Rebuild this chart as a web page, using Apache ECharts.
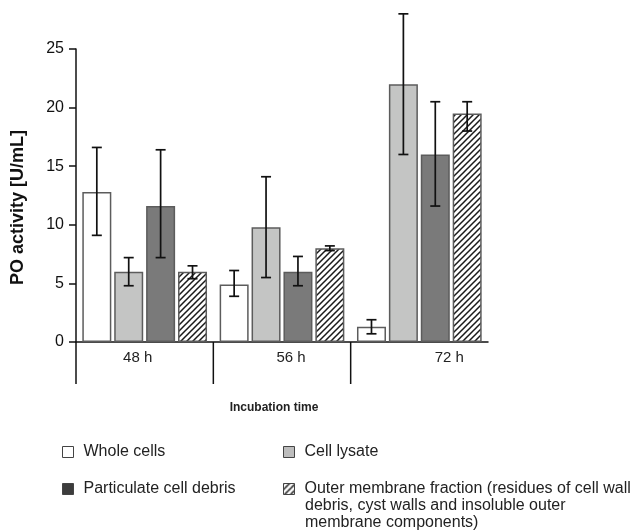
<!DOCTYPE html>
<html lang="en">
<head>
    <meta charset="UTF-8">
    <title>PO activity</title>
    <script src="https://cdn.jsdelivr.net/npm/echarts@6/dist/echarts.min.js"></script>
    <style>
        html, body { margin: 0; padding: 0; background: #fff; }
        #chart { width: 636px; height: 532px; }
    </style>
</head>
<body>
<div id="chart"></div>
<script type="text/javascript">
    // categories and series names
    var categories = ['48 h', '56 h', '72 h'];
    var seriesNames = ['Whole cells', 'Cell lysate', 'Particulate cell debris',
        'Outer membrane fraction (residues of cell wall\ndebris, cyst walls and insoluble outer\nmembrane components)'];

    // mean values per series (48 h, 56 h, 72 h)
    var wholeCells = [12.8, 4.9, 1.3];
    var cellLysate = [6.0, 9.8, 22.0];
    var cellDebris = [11.6, 6.0, 16.0];
    var outerMembrane = [6.0, 8.0, 19.5];

    // error bar ends (low, high)
    var wholeCellsErr = [[9.1, 16.6], [3.9, 6.1], [0.7, 1.9]];
    var cellLysateErr = [[4.8, 7.2], [5.5, 14.1], [16.0, 28.0]];
    var cellDebrisErr = [[7.2, 16.4], [4.8, 7.3], [11.6, 20.5]];
    var outerMembraneErr = [[5.4, 6.5], [7.8, 8.2], [18.0, 20.5]];

    var yTicks = [0, 5, 10, 15, 20, 25];

    var labelFont = '"Liberation Sans", Arial, sans-serif';

    // hatch pattern for the outer membrane bars
    var hatch = document.createElement('canvas');
    hatch.width = 6;
    hatch.height = 6;
    var hc = hatch.getContext('2d');
    hc.fillStyle = '#fff';
    hc.fillRect(0, 0, 6, 6);
    hc.strokeStyle = '#1a1a1a';
    hc.lineWidth = 1.5;
    hc.beginPath();
    hc.moveTo(-1, 7); hc.lineTo(7, -1);
    hc.moveTo(-4, 4); hc.lineTo(4, -4);
    hc.moveTo(2, 10); hc.lineTo(10, 2);
    hc.stroke();

    var barColors = ['#ffffff', '#c4c5c4', '#7a7a7a', {image: hatch, repeat: 'repeat'}];
    var legendColors = ['#ffffff', '#bdbdbd', '#3c3c3c', {image: hatch, repeat: 'repeat'}];
    var means = [wholeCells, cellLysate, cellDebris, outerMembrane];
    var errs = [wholeCellsErr, cellLysateErr, cellDebrisErr, outerMembraneErr];

    var BAR_W = 29, BAR_GAP = 0.1;

    var errData = [];
    for (var s = 0; s < errs.length; s++) {
        for (var c = 0; c < categories.length; c++) {
            errData.push([c, s, errs[s][c][0], errs[s][c][1]]);
        }
    }

    var series = [];
    for (var i = 0; i < seriesNames.length; i++) {
        series.push({
            name: seriesNames[i],
            type: 'bar',
            barWidth: BAR_W,
            barGap: (BAR_GAP * 100) + '%',
            data: means[i],
            itemStyle: {color: barColors[i], borderColor: '#5c5c5c', borderWidth: 1.5},
            emphasis: {disabled: true}
        });
    }
    series.push({
        type: 'custom',
        clip: false,
        silent: true,
        z: 10,
        data: errData,
        encode: {x: 0, y: [2, 3]},
        renderItem: function (params, api) {
            var cat = api.value(0), si = api.value(1);
            var lo = api.coord([cat, api.value(2)]);
            var hi = api.coord([cat, api.value(3)]);
            var gap = BAR_W * BAR_GAP;
            var total = 4 * BAR_W + 3 * gap;
            var x = lo[0] - total / 2 + si * (BAR_W + gap) + BAR_W / 2;
            var cap = 5;
            var st = {stroke: '#111', lineWidth: 1.7};
            return {
                type: 'group',
                children: [
                    {type: 'line', shape: {x1: x, y1: lo[1], x2: x, y2: hi[1]}, style: st},
                    {type: 'line', shape: {x1: x - cap, y1: lo[1], x2: x + cap, y2: lo[1]}, style: st},
                    {type: 'line', shape: {x1: x - cap, y1: hi[1], x2: x + cap, y2: hi[1]}, style: st}
                ]
            };
        }
    });

    function oneLegend(idx, left, top, fmt) {
        return {
            left: left, top: top,
            itemWidth: 11, itemHeight: 11,
            icon: 'rect',
            selectedMode: false,
            formatter: fmt,
            textStyle: {fontFamily: labelFont, fontSize: 16, color: '#222', padding: [0, 0, 0, 5]},
            data: [{name: seriesNames[idx], itemStyle: {color: legendColors[idx], borderColor: '#444', borderWidth: 1}}]
        };
    }

    var catLabels = [
        {value: categories[0], textStyle: {padding: [0, 14, 0, 0]}},
        {value: categories[1], textStyle: {padding: [0, 0, 0, 18]}},
        {value: categories[2], textStyle: {padding: [0, 0, 0, 60]}}
    ];

    var myChart = echarts.init(document.getElementById('chart'));
    var option = {
        animation: false,
        backgroundColor: '#fff',
        grid: {left: 76, right: 148, top: 49, bottom: 190, outerBoundsMode: 'none'},
        legend: [
            oneLegend(0, 57, 439),
            oneLegend(1, 278, 439),
            oneLegend(2, 57, 476),
            oneLegend(3, 278, 476, function (name) { return name.split('\n')[0]; })
        ],
        xAxis: {
            type: 'category',
            data: catLabels,
            name: 'Incubation time',
            nameLocation: 'middle',
            nameGap: 60,
            nameTextStyle: {fontFamily: labelFont, fontSize: 12, fontWeight: 'bold', color: '#222', padding: [0, 16, 0, 0]},
            axisLine: {lineStyle: {color: '#111', width: 1.5}},
            axisTick: {show: false},
            axisLabel: {fontFamily: labelFont, fontSize: 15, color: '#222', margin: 8}
        },
        yAxis: {
            type: 'value',
            min: yTicks[0],
            max: yTicks[yTicks.length - 1],
            interval: 5,
            name: 'PO activity [U/mL]',
            nameLocation: 'middle',
            nameGap: 49,
            nameTextStyle: {fontFamily: labelFont, fontSize: 18, fontWeight: 'bold', color: '#111', padding: [0, 24, 0, 0]},
            axisLine: {show: true, lineStyle: {color: '#111', width: 1.5}},
            axisTick: {show: true, length: 7, lineStyle: {color: '#111', width: 1.5}},
            axisLabel: {fontFamily: labelFont, fontSize: 16, color: '#111', margin: 12},
            splitLine: {show: false}
        },
        series: series
    };
    myChart.setOption(option);

    // category dividers under the x axis, plus the rest of the outer-membrane legend text
    var y0 = myChart.convertToPixel({yAxisIndex: 0}, 0);
    var c0 = myChart.convertToPixel({xAxisIndex: 0}, 0);
    var c1 = myChart.convertToPixel({xAxisIndex: 0}, 1);
    var band = c1 - c0;
    var graphics = [];
    for (var k = 0; k < categories.length; k++) {
        var bx = c0 - band / 2 + k * band;
        graphics.push({
            type: 'line',
            shape: {x1: bx, y1: y0, x2: bx, y2: y0 + 42},
            style: {stroke: '#111', lineWidth: 1.5}
        });
    }
    var extraLines = seriesNames[3].split('\n').slice(1);
    for (var m = 0; m < extraLines.length; m++) {
        graphics.push({
            type: 'text',
            left: 305,
            top: 498 + m * 16.5,
            style: {text: extraLines[m], font: '16px ' + labelFont, fill: '#222'}
        });
    }
    myChart.setOption({graphic: graphics});
</script>
</body>
</html>
